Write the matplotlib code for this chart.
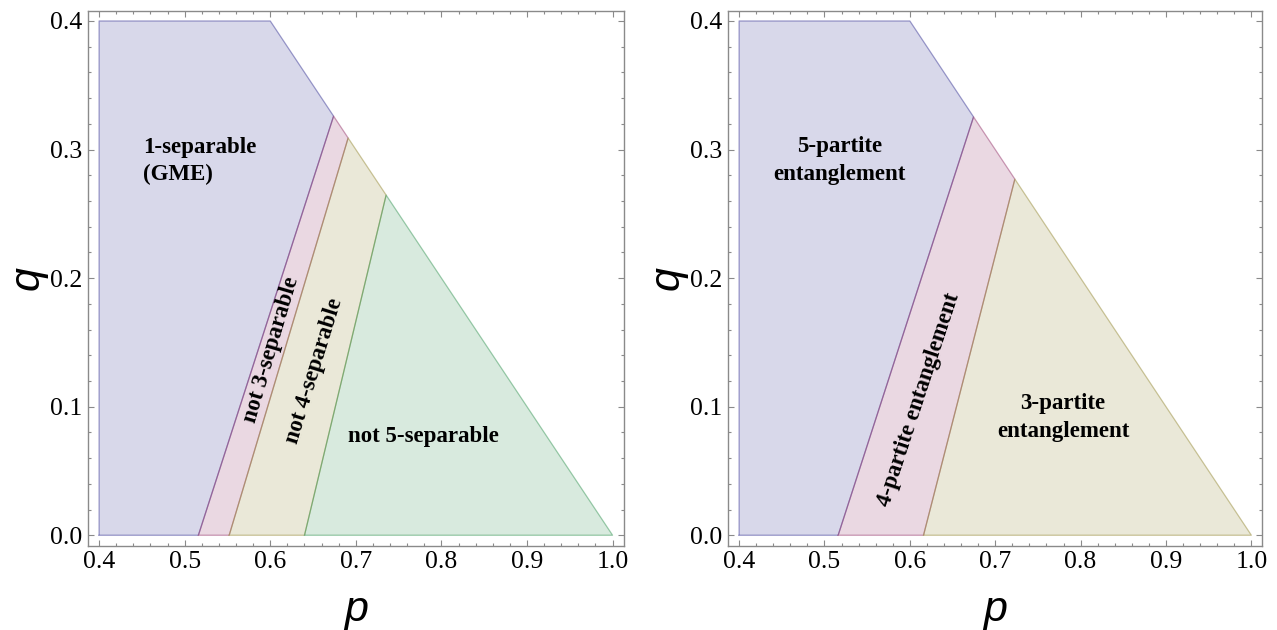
import colorsys
import matplotlib.pyplot as plt
from matplotlib.ticker import MultipleLocator

# outer boundary: q <= 0.4, p >= 0.4, p + q <= 1
p_min, p_cap, q_cap = 0.4, 0.6, 0.4

# left panel: dividing lines run from (bottom, 0) to a point on p + q = 1
sep_bottom = [0.516, 0.552, 0.640]
sep_top_q = [0.326, 0.309, 0.2646]
sep_labels = ['1-separable\n(GME)', 'not 3-separable', 'not 4-separable', 'not 5-separable']
sep_label_pos = [(0.4514, 0.291), (0.6015, 0.144), (0.651, 0.128), (0.7787, 0.0768)]
sep_label_rot = [0, 73.5, 72.8, 0]

# right panel
part_bottom = [0.516, 0.616]
part_top_q = [0.3254, 0.277]
part_labels = ['5-partite\nentanglement', '4-partite entanglement', '3-partite\nentanglement']
part_label_pos = [(0.518, 0.2914), (0.610, 0.1053), (0.7794, 0.0917)]
part_label_rot = [0, 71.8, 0]

hues = [0.67, 0.9067, 0.1467, 0.3867]
colors = [colorsys.hsv_to_rgb(h, 0.6, 0.6) for h in hues]


def regions(bottoms, tops):
    polys = [[(p_min, 0), (p_min, q_cap), (p_cap, q_cap),
              (1 - tops[0], tops[0]), (bottoms[0], 0)]]
    for i in range(1, len(bottoms)):
        polys.append([(bottoms[i - 1], 0), (1 - tops[i - 1], tops[i - 1]),
                      (1 - tops[i], tops[i]), (bottoms[i], 0)])
    polys.append([(bottoms[-1], 0), (1 - tops[-1], tops[-1]), (1, 0)])
    return polys


def draw_panel(ax, bottoms, tops, labels, label_pos, label_rot):
    for poly, c in zip(regions(bottoms, tops), colors):
        xs = [pt[0] for pt in poly] + [poly[0][0]]
        ys = [pt[1] for pt in poly] + [poly[0][1]]
        ax.fill(xs, ys, color=c, alpha=0.2, lw=0)
        ax.plot(xs, ys, color=c, alpha=0.5, lw=0.9)
    for txt, (x, y), r in zip(labels, label_pos, label_rot):
        left = txt.startswith('1-')
        ax.text(x, y, txt, rotation=r, rotation_mode='anchor',
                ha='left' if left else 'center', va='center',
                multialignment='left' if left else 'center', linespacing=1.4,
                family='Liberation Serif', fontweight='bold', fontsize=16.5)

    ax.set_xlim(0.387, 1.013)
    ax.set_ylim(-0.008, 0.408)
    ax.xaxis.set_major_locator(MultipleLocator(0.1))
    ax.xaxis.set_minor_locator(MultipleLocator(0.02))
    ax.yaxis.set_major_locator(MultipleLocator(0.1))
    ax.yaxis.set_minor_locator(MultipleLocator(0.02))
    ax.xaxis.set_major_formatter(plt.FuncFormatter(lambda v, _: f'{v:.1f}'))
    ax.yaxis.set_major_formatter(plt.FuncFormatter(lambda v, _: f'{v:.1f}'))
    ax.tick_params(which='both', direction='in', top=True, right=True,
                   color='#8a8a8a', width=0.8)
    ax.tick_params(which='major', length=4.5, labelsize=18.5, pad=4)
    ax.tick_params(which='minor', length=2.5)
    for lab in ax.get_xticklabels() + ax.get_yticklabels():
        lab.set_family('Liberation Serif')
    for s in ax.spines.values():
        s.set_color('#8a8a8a')
        s.set_linewidth(1)
    ax.set_xlabel('p', family='Liberation Sans', style='italic', fontsize=31, labelpad=12)
    ax.set_ylabel('q', family='Liberation Sans', style='italic', fontsize=31, labelpad=2)


fig = plt.figure(figsize=(12.77, 6.30), dpi=100)
ax1 = fig.add_axes([0.0689, 0.1341, 0.4195, 0.8489])
ax2 = fig.add_axes([0.5701, 0.1341, 0.4185, 0.8489])

draw_panel(ax1, sep_bottom, sep_top_q, sep_labels, sep_label_pos, sep_label_rot)
draw_panel(ax2, part_bottom, part_top_q, part_labels, part_label_pos, part_label_rot)

fig.savefig('out.png', dpi=100)
